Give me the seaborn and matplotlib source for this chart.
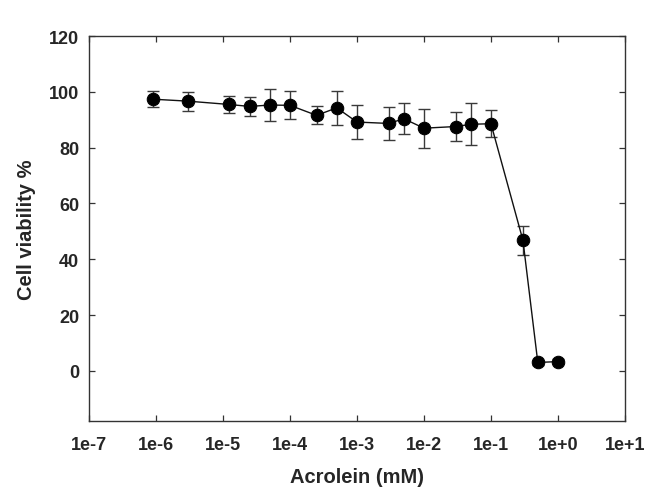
import numpy as np
import pandas as pd
import matplotlib
matplotlib.use("Agg")
import matplotlib.pyplot as plt
import matplotlib.ticker as mticker
import seaborn as sns

# ---- data ----
concentration_mM = [9e-7, 3e-6, 1.25e-5, 2.5e-5, 5e-5, 1e-4, 2.5e-4, 5e-4, 1e-3,
                    3e-3, 5e-3, 1e-2, 3e-2, 5e-2, 1e-1, 3e-1, 5e-1, 1.0]
viability = [97.4, 96.7, 95.5, 94.8, 95.3, 95.2, 91.6, 94.3, 89.2,
             88.7, 90.4, 87.0, 87.6, 88.4, 88.6, 46.8, 3.0, 3.3]
viability_err = [2.9, 3.4, 2.9, 3.3, 5.9, 5.0, 3.2, 6.0, 6.0,
                 5.9, 5.5, 7.0, 5.1, 7.5, 4.8, 5.2, 1.0, 1.0]
x_tick_values = [1e-7, 1e-6, 1e-5, 1e-4, 1e-3, 1e-2, 1e-1, 1e0, 1e1]
x_tick_labels = ["1e-7", "1e-6", "1e-5", "1e-4", "1e-3", "1e-2", "1e-1", "1e+0", "1e+1"]
y_tick_values = [0, 20, 40, 60, 80, 100, 120]

df = pd.DataFrame({"conc": concentration_mM, "viab": viability, "err": viability_err})

sns.set_theme(style="ticks")
plt.rcParams["font.family"] = ["Liberation Sans", "DejaVu Sans"]
plt.rcParams["font.weight"] = "bold"

fig = plt.figure(figsize=(6.49, 4.89), dpi=100)
ax = fig.add_axes([0.137, 0.137, 0.826, 0.787])

ax.errorbar(df["conc"], df["viab"], yerr=df["err"], fmt="none",
            ecolor="#3a3a3a", elinewidth=1.0, capsize=4.3, capthick=1.0, zorder=2)
sns.lineplot(data=df, x="conc", y="viab", ax=ax, color="#111111", linewidth=1.0,
             marker="o", markersize=9, markerfacecolor="black",
             markeredgecolor="black", zorder=3, estimator=None, sort=False)

ax.set_xscale("log")
ax.set_xlim(1e-7, 1e1)
ax.set_ylim(-18, 120)
ax.set_xticks(x_tick_values)
ax.xaxis.set_major_formatter(mticker.FixedFormatter(x_tick_labels))
ax.xaxis.set_minor_locator(mticker.NullLocator())
ax.set_yticks(y_tick_values)

ax.tick_params(axis="both", which="major", direction="in", length=4, width=0.9,
               color="#333333", top=True, right=True, labelsize=13)
ax.tick_params(axis="x", pad=11)
ax.tick_params(axis="y", pad=7)
for lab in ax.get_xticklabels() + ax.get_yticklabels():
    lab.set_fontweight("bold")

for s in ax.spines.values():
    s.set_visible(True)
    s.set_linewidth(1.0)
    s.set_color("#333333")

ax.set_xlabel("Acrolein (mM)", fontsize=14.5, fontweight="bold", labelpad=10)
ax.set_ylabel("Cell viability %", fontsize=14.5, fontweight="bold", labelpad=9)

fig.savefig("out.png", dpi=100, facecolor="white")
